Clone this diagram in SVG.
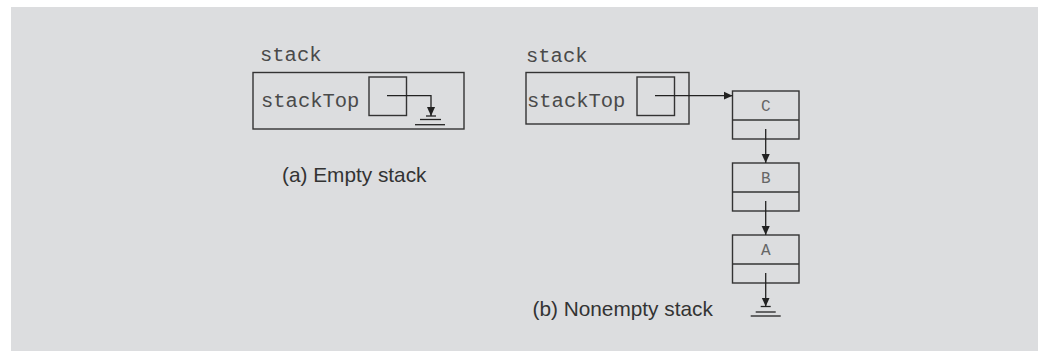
<svg xmlns="http://www.w3.org/2000/svg" width="1038" height="351" viewBox="0 0 1038 351">
<style>
.box{fill:none;stroke:#333;stroke-width:1.4}
.ln{fill:none;stroke:#222;stroke-width:1.3}
.mono{font-family:"Liberation Mono","Courier New",monospace;font-size:20.5px;fill:#4a4a4a}
.node{font-family:"Liberation Mono","Courier New",monospace;font-size:16px;fill:#666;text-anchor:middle}
.cap{font-family:"Liberation Sans",Arial,sans-serif;font-size:20.8px;fill:#333}
</style>
<defs>
<marker id="arr" viewBox="0 0 10 10" refX="10" refY="5" markerWidth="9" markerHeight="9" markerUnits="userSpaceOnUse" orient="auto">
<path d="M0,0.5 L10,5 L0,9.5 Z" fill="#222"/>
</marker>
</defs>
<rect x="11" y="7" width="1027" height="344" fill="#dcdddf"/>
<g id="stackA">
<text class="mono" x="260" y="61">stack</text>
<rect class="box" x="253" y="72.5" width="211" height="56.5"/>
<text class="mono" x="261" y="106.5">stackTop</text>
<rect class="box" x="369" y="77" width="37.5" height="38.5"/>
</g>
<g id="stackB">
<text class="mono" x="526" y="61.5">stack</text>
<rect class="box" x="526" y="72.5" width="163" height="51.5"/>
<text class="mono" x="527" y="106.5">stackTop</text>
<rect class="box" x="637" y="77" width="37.5" height="38.5"/>
</g>
<g id="nodeC">
<rect class="box" x="732.5" y="91" width="66.5" height="48"/>
<line class="box" x1="732.5" y1="120" x2="799" y2="120"/>
<text class="node" x="765.7" y="111">C</text>
</g>
<g id="nodeB">
<rect class="box" x="732.5" y="163" width="66.5" height="48"/>
<line class="box" x1="732.5" y1="192" x2="799" y2="192"/>
<text class="node" x="765.7" y="183">B</text>
</g>
<g id="nodeA">
<rect class="box" x="732.5" y="235" width="66.5" height="48"/>
<line class="box" x1="732.5" y1="264" x2="799" y2="264"/>
<text class="node" x="765.7" y="255">A</text>
</g>
<g id="groundA">
<line class="ln" x1="426" y1="116" x2="436" y2="116"/>
<line class="ln" x1="420" y1="119.5" x2="441" y2="119.5"/>
<line class="ln" x1="415" y1="124.7" x2="445" y2="124.7"/>
</g>
<g id="groundB">
<line class="ln" x1="760.7" y1="306.5" x2="770.7" y2="306.5"/>
<line class="ln" x1="755.7" y1="312" x2="775.7" y2="312"/>
<line class="ln" x1="750.7" y1="316" x2="780.7" y2="316"/>
</g>
<g id="connectors">
<path class="ln" d="M387,95.7 H431 V116" marker-end="url(#arr)"/>
<path class="ln" d="M655,95.7 H732.5" marker-end="url(#arr)"/>
<path class="ln" d="M765.7,129 V163" marker-end="url(#arr)"/>
<path class="ln" d="M765.7,201 V235" marker-end="url(#arr)"/>
<path class="ln" d="M765.7,273 V306.5" marker-end="url(#arr)"/>
</g>
<g id="captions">
<text class="cap" x="282" y="181.5">(a) Empty stack</text>
<text class="cap" x="532.5" y="315.5">(b) Nonempty stack</text>
</g>
</svg>
